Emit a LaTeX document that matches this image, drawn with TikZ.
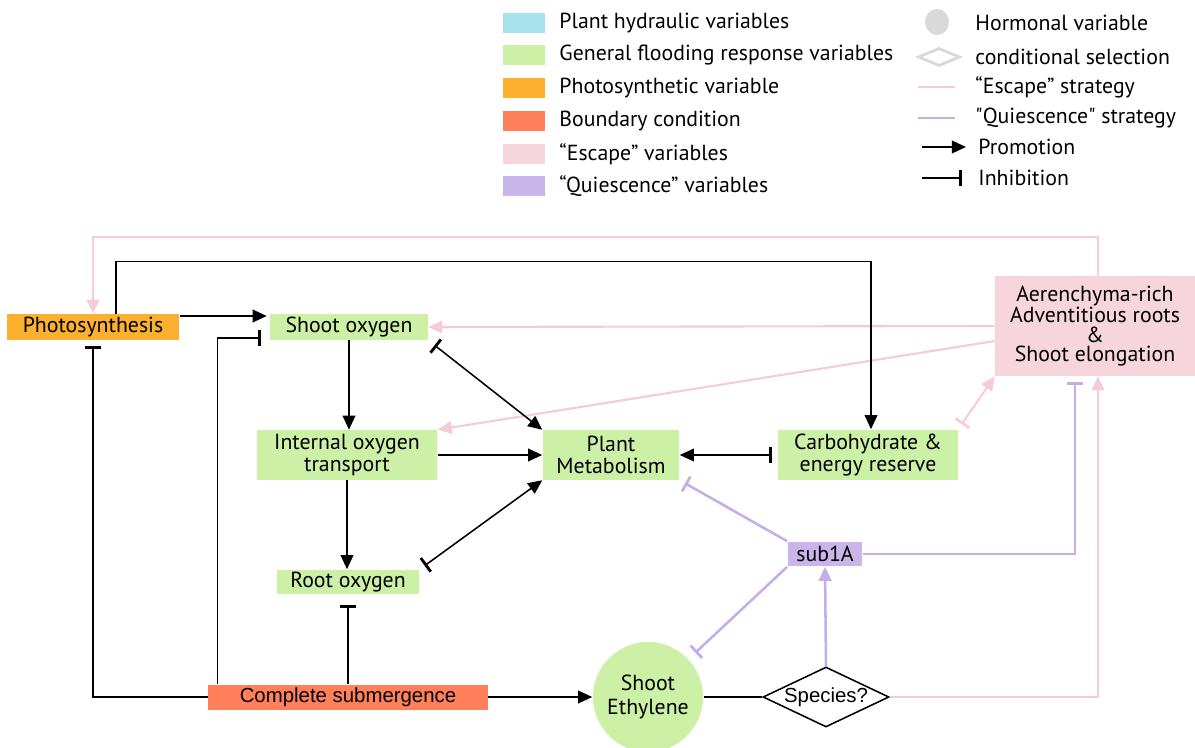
\documentclass[tikz,border=0pt]{standalone}
\usepackage{fontspec}
\setmainfont{PT Sans}
\newfontfamily\ptplain{PT Sans}
\newfontfamily\arialfont{Liberation Sans}
\usetikzlibrary{shapes.geometric}
\usetikzlibrary{arrows.meta}
\usetikzlibrary{positioning}

\definecolor{hydro}{HTML}{A8E2EC}
\definecolor{flood}{HTML}{CCF0A6}
\definecolor{photo}{HTML}{FBB12F}
\definecolor{bound}{HTML}{FF805A}
\definecolor{escp}{HTML}{F6D5DD}
\definecolor{quies}{HTML}{C9B5EA}
\definecolor{hormo}{HTML}{D9D9D9}
\definecolor{escline}{HTML}{F5CBD6}
\definecolor{quiline}{HTML}{C4AEE8}

\tikzset{
  var/.style={rectangle, inner sep=0pt, align=center},
  prom/.style={-{Triangle[length=10pt,width=9pt]}},
  inhib/.style={-{Bar[width=12pt,line width=2pt]}},
  both/.style={{Bar[width=12pt,line width=2pt]}-{Triangle[length=10pt,width=9pt]}},
  esc/.style={escline,line width=1.5pt},
  qui/.style={quiline,line width=1.8pt},
}

\begin{document}
\begin{tikzpicture}[x=0.025cm,y=-0.025cm,line width=1.1pt,font=\fontsize{15.5}{15}\selectfont]
		\useasboundingbox (0,0) rectangle (1195,748);
		% legend
		\node [var,fill=hydro,minimum width=1.05cm,minimum height=0.5cm] (lg1) at (524,23) {};
		\node [var,fill=flood,minimum width=1.05cm,minimum height=0.5cm] (lg2) at (524,55) {};
		\node [var,fill=photo,minimum width=1.05cm,minimum height=0.5cm] (lg3) at (524,88) {};
		\node [var,fill=bound,minimum width=1.05cm,minimum height=0.5cm] (lg4) at (524,121) {};
		\node [var,fill=escp,minimum width=1.05cm,minimum height=0.5cm] (lg5) at (524,154) {};
		\node [var,fill=quies,minimum width=1.05cm,minimum height=0.5cm] (lg6) at (524,186) {};
		\node [anchor=west] at (554,23) {Plant hydraulic variables};
		\node [anchor=west] at (554,55) {General flooding response variables};
		\node [anchor=west] at (554,88) {Photosynthetic variable};
		\node [anchor=west] at (554,121) {Boundary condition};
		\node [anchor=west] at (554,154) {“Escape” variables};
		\node [anchor=west] at (554,186) {“Quiescence” variables};
		\node [ellipse,fill=hormo,inner sep=0pt,minimum width=0.6cm,minimum height=0.65cm] (lgh) at (937,22) {};
		\node [diamond,draw=hormo,line width=2pt,minimum width=1.05cm,minimum height=0.45cm,inner sep=0pt] (lgd) at (939,57) {};
		\coordinate (le1) at (918,87); \coordinate (le2) at (955,87);
		\coordinate (lq1) at (918,118); \coordinate (lq2) at (955,118);
		\coordinate (lp1) at (922,147); \coordinate (lp2) at (966,147);
		\coordinate (li1) at (922,178); \coordinate (li2) at (962,178);
		\draw [esc] (le1) -- (le2);
		\draw [qui] (lq1) -- (lq2);
		\draw [prom] (lp1) -- (lp2);
		\draw [inhib] (li1) -- (li2);
		\node [anchor=west] at (970,23) {Hormonal variable};
		\node [anchor=west] at (970,57) {conditional selection};
		\node [anchor=west] at (970,87) {“Escape” strategy};
		\node [anchor=west] at (970,118) {{\ptplain"}Quiescence{\ptplain"} strategy};
		\node [anchor=west] at (973,147) {Promotion};
		\node [anchor=west] at (973,178) {Inhibition};
		% variables
		\node [var,fill=photo,minimum width=4.3cm,minimum height=0.625cm] (photo) at (93,327) {Photosynthesis};
		\node [var,fill=flood,minimum width=3.925cm,minimum height=0.625cm] (shoot) at (349,327) {Shoot oxygen};
		\node [var,fill=escp,minimum width=4.975cm,minimum height=2.475cm,font=\fontsize{15.5}{14}\selectfont] (aer) at (1095,326) {Aerenchyma-rich\\Adventitious roots\\\&\\Shoot elongation};
		\node [var,fill=flood,minimum width=4.5cm,minimum height=1.225cm,font=\fontsize{15.5}{15.5}\selectfont] (int) at (347,455) {Internal oxygen\\transport};
		\node [var,fill=flood,minimum width=3.4cm,minimum height=1.225cm,font=\fontsize{15.5}{15.5}\selectfont] (met) at (611,455) {Plant\\Metabolism};
		\node [var,fill=flood,minimum width=4.475cm,minimum height=1.25cm,font=\fontsize{15.5}{15.5}\selectfont] (carb) at (868,455) {Carbohydrate \&\\energy reserve};
		\node [var,fill=flood,minimum width=3.55cm,minimum height=0.6cm] (root) at (348,582) {Root oxygen};
		\node [var,fill=quies,minimum width=1.85cm,minimum height=0.6cm] (subA) at (825,554) {sub1A};
		\node [var,fill=bound,minimum width=6.975cm,minimum height=0.625cm,font=\arialfont\fontsize{14.5}{15}\selectfont] (subm) at (348,697) {Complete submergence};
		\node [circle,fill=flood,minimum size=2.75cm,inner sep=0pt,align=center,font=\fontsize{15.5}{16.5}\selectfont] (eth) at (648,697) {Shoot\\Ethylene};
		\node [diamond,draw,fill=white,aspect=2.1,minimum width=3.15cm,minimum height=1.5cm,inner sep=0pt,font=\arialfont\fontsize{14.5}{15}\selectfont] (spec) at (826,697) {Species?};
		% escape strategy
		\draw [esc,-{Triangle[length=10pt,width=9pt]}] ([xshift=0.075cm]aer.north) -- ++(0,-39) -| (photo.north);
		\draw [esc,-{Triangle[length=10pt,width=9pt]}] (aer.west) -- (shoot.east);
		\draw [esc,-{Triangle[length=10pt,width=9pt]}] ([yshift=-0.375cm]aer.west) -- (int.north east);
		\draw [esc,{Bar[width=12pt,line width=2pt]}-{Triangle[length=10pt,width=9pt]},shorten <=0.15cm] (carb.north east) -- (aer.south west);
		\draw [esc,-{Triangle[length=10pt,width=9pt]}] (spec.east) -| ([xshift=0.075cm]aer.south);
		% quiescence strategy
		\draw [qui,-{Bar[width=12pt,line width=2pt]},shorten >=0.15cm] (subA.north west) -- (met.south east);
		\draw [qui,-{Bar[width=12pt,line width=2pt]},shorten >=0.225cm] (subA.south west) -- (eth);
		\draw [qui,-{Bar[width=12pt,line width=2pt]},shorten >=0.15cm] (subA.east) -| ([xshift=-0.5cm]aer.south);
		\draw [qui,-{Triangle[length=10pt,width=9pt]}] (spec.north) -- (subA.south);
		% general
		\draw [prom] ([xshift=0.575cm]photo.north) -- ++(0,-52) -| ([xshift=0.075cm]carb.north);
		\draw [prom] ([yshift=0.275cm]photo.east) -- ([xshift=-0.075cm,yshift=0.275cm]shoot.west);
		\draw [inhib,shorten >=0.15cm] (subm.west) -| (photo.south);
		\draw [inhib] ([xshift=0.25cm]subm.north west) |- ([xshift=-0.225cm,yshift=-0.275cm]shoot.west);
		\draw [inhib,shorten >=0.25cm] (subm.north) -- (root.south);
		\draw [prom] (subm.east) -- (eth.west);
		\draw [prom] (shoot.south) -- (shoot.south |- int.north);
		\draw [both,shorten <=0.2cm] (shoot.south east) -- (met.north west);
		\draw [prom] (int.east) -- (met.west);
		\draw [prom] (int.south) -- (int.south |- root.north);
		\draw [both,shorten <=0.15cm] (root.north east) -- (met.south west);
		\draw [both,shorten <=0.15cm] (carb.west) -- (met.east);
		\draw (eth.east) -- (spec.west);
\end{tikzpicture}
\end{document}
